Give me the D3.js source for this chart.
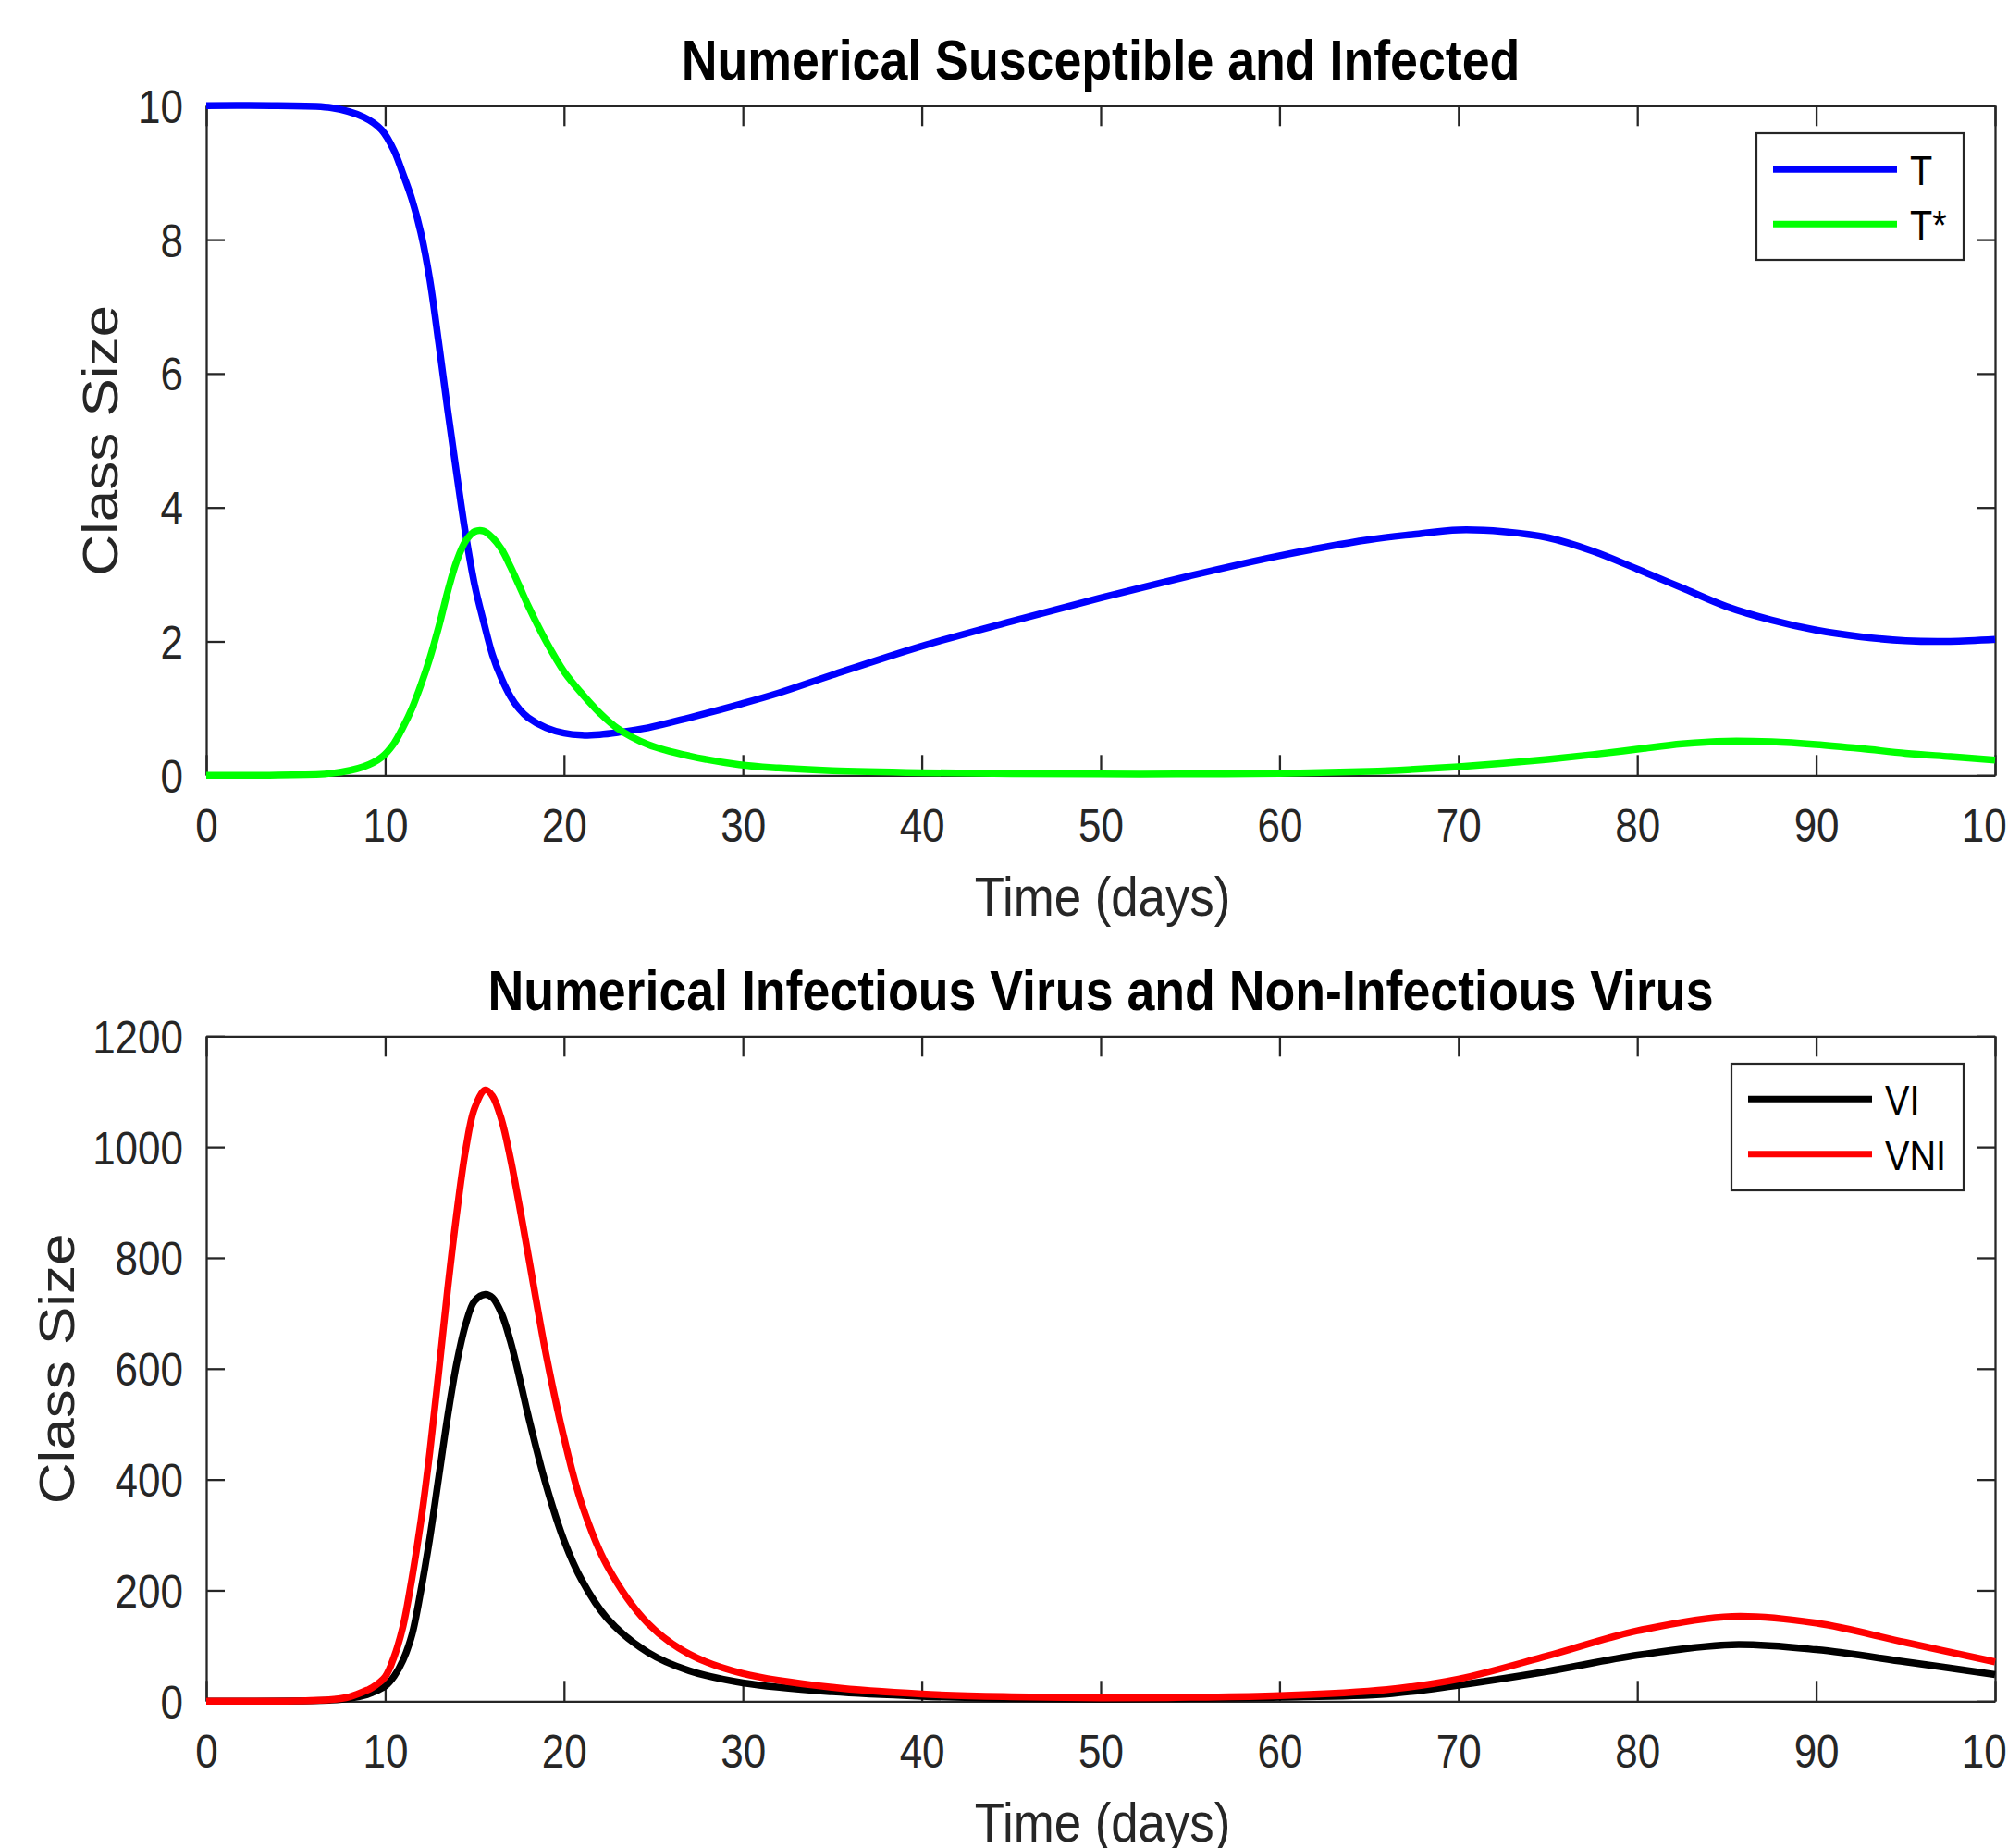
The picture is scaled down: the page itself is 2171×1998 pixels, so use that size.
<!DOCTYPE html>
<html><head><meta charset="utf-8">
<script src="https://cdn.jsdelivr.net/npm/d3@7"></script>
<style>
body{margin:0;background:#fff}
svg{display:block;background:#fff}
text{font-family:"Liberation Sans",Arial,Helvetica,sans-serif}
</style>
</head><body>
<svg id="chart" width="2171" height="1998"></svg>
<script>
// ---------------- data ----------------
const xTicks = [0,10,20,30,40,50,60,70,80,90,100];
const topYTicks = [0,2,4,6,8,10];
const botYTicks = [0,200,400,600,800,1000,1200];

const topDays = [0,4,7,8.8,9.8,10.5,11,11.5,12,12.5,13,13.5,14,14.5,15,15.5,16,16.5,17,17.5,18,19,20,21,22,23,24.7,27,29.8,32,35,40,45,50,55,60,65,67.5,70,72.5,75,77.5,80,82.5,85,87.5,90,92.5,95,97.5,100];
const T      = [10,10,9.97,9.83,9.64,9.33,8.98,8.6,8.1,7.4,6.45,5.45,4.5,3.6,2.85,2.3,1.8,1.45,1.18,0.99,0.86,0.71,0.63,0.6,0.61,0.64,0.71,0.86,1.06,1.23,1.5,1.93,2.3,2.65,2.98,3.28,3.52,3.6,3.665,3.64,3.55,3.35,3.08,2.8,2.52,2.32,2.17,2.07,2.01,2.0,2.03];
const Tstar  = [0,0.005,0.03,0.13,0.27,0.48,0.72,1.0,1.35,1.75,2.22,2.75,3.2,3.5,3.64,3.65,3.55,3.38,3.12,2.83,2.53,2.0,1.55,1.22,0.93,0.7,0.46,0.29,0.16,0.11,0.07,0.04,0.025,0.02,0.02,0.03,0.06,0.09,0.13,0.18,0.24,0.31,0.39,0.47,0.51,0.5,0.46,0.4,0.33,0.28,0.23];

const botDays = [0,5,7,8,9,9.25,10,10.5,11,11.5,12,12.5,13,13.5,14,14.5,15,15.6,16,16.5,17,17.5,18,19,20,21,22.4,24.7,27,30,35,40,45,50,55,60,66,70,75,80,85.3,90,95,100];
const VI  = [0,0.3,2,5,12,15,27,45,74,120,200,295,405,515,610,680,722,734,728,700,650,585,515,390,290,218,150,88,55,33,17,9,5,4,5,7,13,29,54,83,102,93,71,48];
const VNI = [0,0.5,3,8,20,24,44,80,135,222,325,450,595,745,880,995,1070,1103,1092,1050,980,895,805,625,475,355,245,140,85,50,25,13,8,6,7,10,21,40,82,127,153,141,106,71];

const topTitle = "Numerical Susceptible and Infected";
const botTitle = "Numerical Infectious Virus and Non-Infectious Virus";
const xLabel = "Time (days)";
const yLabel = "Class Size";
const topNames = ["T","T*"];
const botNames = ["VI","VNI"];

// ---------------- drawing ----------------
const svg = d3.select("#chart");
const K = 0.88;            // horizontal squeeze of the original figure's text
const AX = "#262626";

function txt(parent, str, x, y, size, o = {}) {
  const t = parent.append("text")
    .attr("transform", `translate(${x},${y}) scale(${K},1)` + (o.rotate ? ` rotate(${o.rotate})` : ""))
    .attr("font-size", size)
    .attr("text-anchor", o.anchor || "start")
    .attr("fill", o.fill || AX)
    .text(str);
  if (o.bold) t.attr("font-weight", "bold");
  return t;
}

function panel(cfg) {
  const x = d3.scaleLinear().domain([0,100]).range([cfg.left, cfg.right]);
  const y = d3.scaleLinear().domain([0,cfg.yMax]).range([cfg.bottom, cfg.top]);
  const g = svg.append("g");

  const styleAxis = sel => {
    sel.selectAll("path,line").attr("stroke", AX).attr("stroke-width", 2.3);
    sel.selectAll("text").attr("fill", AX).attr("font-size", 50)
       .attr("font-family", '"Liberation Sans",Arial,Helvetica,sans-serif');
  };

  const gb = g.append("g").attr("transform", `translate(0,${cfg.bottom})`)
    .call(d3.axisBottom(x).tickValues(xTicks).tickFormat(d3.format("d")).tickSizeInner(-22).tickSizeOuter(0));
  styleAxis(gb);
  gb.selectAll("text").attr("y", null).attr("dy", null)
    .attr("transform", `translate(0,72) scale(${K},1)`);

  const gt = g.append("g").attr("transform", `translate(0,${cfg.top})`)
    .call(d3.axisTop(x).tickValues(xTicks).tickFormat("").tickSizeInner(-22).tickSizeOuter(0));
  styleAxis(gt);

  const gl = g.append("g").attr("transform", `translate(${cfg.left},0)`)
    .call(d3.axisLeft(y).tickValues(cfg.yTicks).tickFormat(d3.format("d")).tickSizeInner(-20).tickSizeOuter(0));
  styleAxis(gl);
  gl.selectAll("text").attr("x", null).attr("dy", "0.36em")
    .attr("transform", `translate(-25,0) scale(${K},1)`);

  const gr = g.append("g").attr("transform", `translate(${cfg.right},0)`)
    .call(d3.axisRight(y).tickValues(cfg.yTicks).tickFormat("").tickSizeInner(-20).tickSizeOuter(0));
  styleAxis(gr);

  const clipId = "clip" + cfg.id;
  svg.append("clipPath").attr("id", clipId).append("rect")
    .attr("x", cfg.left - 5).attr("y", cfg.top - 5)
    .attr("width", cfg.right - cfg.left + 10).attr("height", cfg.bottom - cfg.top + 10);

  const lines = g.append("g").attr("clip-path", `url(#${clipId})`);
  cfg.series.forEach(s => {
    const line = d3.line().x((d,i) => x(s.days[i])).y(d => y(d)).curve(d3.curveCatmullRom.alpha(0.5));
    lines.append("path").attr("d", line(s.values)).attr("fill", "none")
      .attr("stroke", s.color).attr("stroke-width", 7.5)
      .attr("stroke-linejoin", "round");
  });

  // title, labels
  txt(g, cfg.title, (cfg.left + cfg.right) / 2, cfg.top - 28, 61, {anchor: "middle", bold: true, fill: "#000"});
  txt(g, xLabel, (cfg.left + cfg.right) / 2 + 2, cfg.bottom + 152, 60, {anchor: "middle"});
  txt(g, yLabel, cfg.ylabelX, (cfg.top + cfg.bottom) / 2, 62, {anchor: "middle", rotate: -90});

  // legend
  const L = cfg.legend;
  g.append("rect").attr("x", L.x0).attr("y", L.y0).attr("width", L.x1 - L.x0).attr("height", L.y1 - L.y0)
    .attr("fill", "#fff").attr("stroke", AX).attr("stroke-width", 2.2);
  cfg.series.forEach((s, i) => {
    const ly = L.rows[i];
    g.append("line").attr("x1", L.lx0).attr("x2", L.lx1).attr("y1", ly).attr("y2", ly)
      .attr("stroke", s.color).attr("stroke-width", 7);
    txt(g, s.name, L.tx, ly + 17, 45, {fill: "#000"});
  });
}

panel({
  id: "top", left: 223, right: 2157, top: 114.3, bottom: 838.3, yMax: 10, yTicks: topYTicks,
  title: topTitle, ylabelX: 127,
  series: [
    {name: topNames[0], days: topDays, values: T, color: "#0000ff"},
    {name: topNames[1], days: topDays, values: Tstar, color: "#00ff00"}
  ],
  legend: {x0: 1899, x1: 2123, y0: 144, y1: 281, lx0: 1917, lx1: 2051, rows: [183.3, 242.3], tx: 2065}
});

panel({
  id: "bot", left: 223, right: 2157, top: 1120.3, bottom: 1839.3, yMax: 1200, yTicks: botYTicks,
  title: botTitle, ylabelX: 80,
  series: [
    {name: botNames[0], days: botDays, values: VI, color: "#000000"},
    {name: botNames[1], days: botDays, values: VNI, color: "#ff0000"}
  ],
  legend: {x0: 1872, x1: 2123, y0: 1150, y1: 1287, lx0: 1890, lx1: 2024, rows: [1188.3, 1247.7], tx: 2038}
});
</script>
</body></html>
